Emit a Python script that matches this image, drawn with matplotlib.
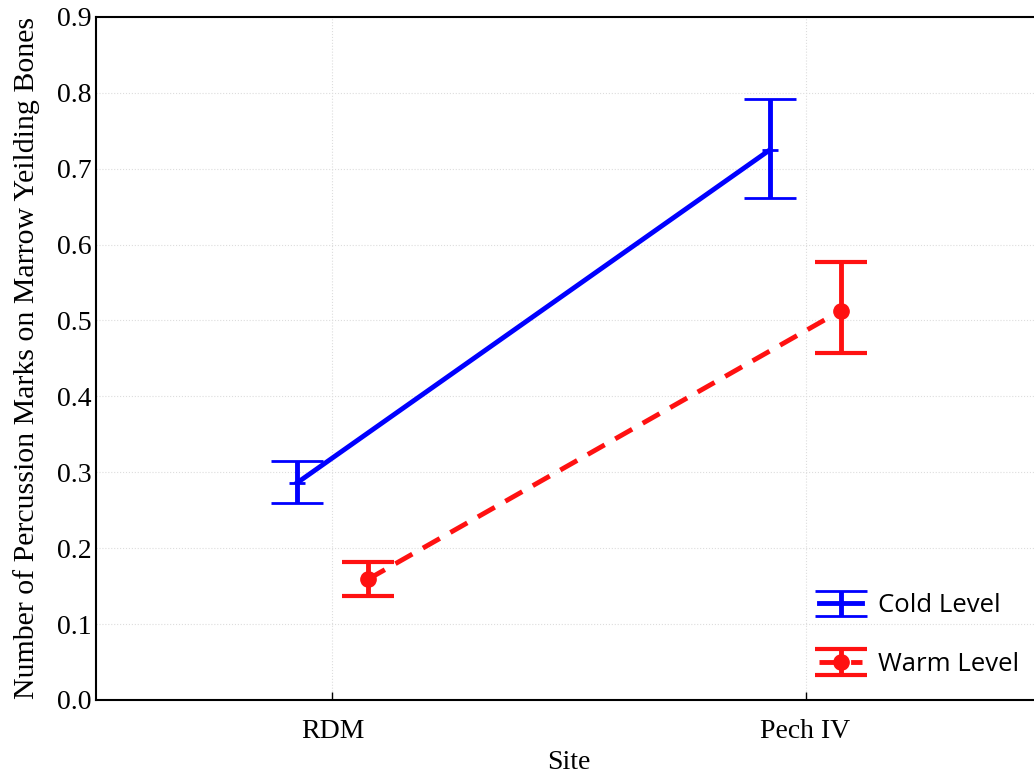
import matplotlib
matplotlib.use("Agg")
import matplotlib.pyplot as plt

# Data
sites = ["RDM", "Pech IV"]
cold_mean = [0.286, 0.725]
cold_low = [0.260, 0.661]
cold_high = [0.315, 0.792]
warm_mean = [0.159, 0.513]
warm_low = [0.137, 0.457]
warm_high = [0.182, 0.577]

BLUE = "#0000ff"
RED = "#ff1111"
dodge = 0.075

fig = plt.figure(figsize=(10.34, 7.78), dpi=100)
ax = fig.add_axes([0.0928, 0.1003, 0.915, 0.878])

x = [i + 1 for i in range(len(sites))]
xc = [v - dodge for v in x]
xw = [v + dodge for v in x]

cold_err = [[m - l for m, l in zip(cold_mean, cold_low)],
            [h - m for m, h in zip(cold_mean, cold_high)]]
warm_err = [[m - l for m, l in zip(warm_mean, warm_low)],
            [h - m for m, h in zip(warm_mean, warm_high)]]

ax.errorbar(xc, cold_mean, yerr=cold_err, color=BLUE, lw=3.5,
            elinewidth=3.5, capsize=19, capthick=3, marker="+", ms=11,
            mew=2, label="Cold Level", zorder=3)
ax.errorbar(xw, warm_mean, yerr=warm_err, color=RED, lw=3.5, ls=(0, (4, 2.5)),
            elinewidth=3.5, capsize=19, capthick=3, marker="o", ms=11,
            label="Warm Level", zorder=3)

serif = "Liberation Serif"
ax.set_xlim(0.5, 2.5)
ax.set_ylim(0, 0.9)
ax.set_xticks(x)
ax.set_xticklabels(sites, fontsize=20, family=serif)
ax.set_yticks([i / 10 for i in range(10)])
ax.set_yticklabels([f"{i / 10:.1f}" for i in range(10)], fontsize=20, family=serif)
ax.tick_params(axis="x", direction="in", length=6, width=1, pad=14)
ax.tick_params(axis="y", direction="in", length=0, pad=3)

ax.set_xlabel("Site", fontsize=20, family=serif, labelpad=4)
ax.set_ylabel("Number of Percussion Marks on Marrow Yeilding Bones",
              fontsize=21.5, family=serif, labelpad=12)

ax.grid(True, color="#dddddd", ls=":", lw=0.8)
for s in ["left", "bottom", "top"]:
    ax.spines[s].set_linewidth(1.5)

leg = ax.legend(loc="lower right", bbox_to_anchor=(1.0, 0.0),
                frameon=False, prop={"family": "Open Sans", "size": 18.5},
                handlelength=1.7, labelspacing=1.3, handletextpad=0.6)

fig.savefig("out.png", dpi=100, facecolor="white")
